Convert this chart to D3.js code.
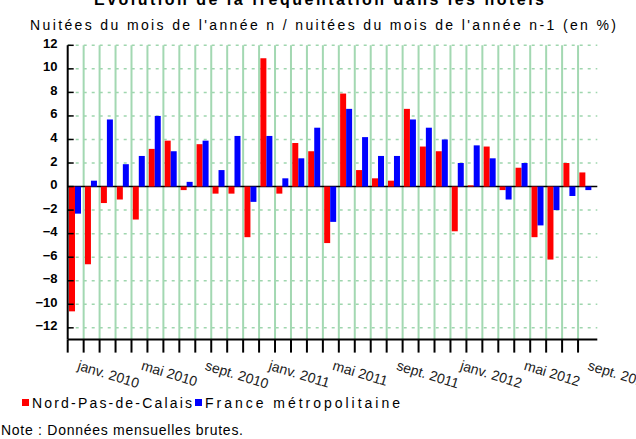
<!DOCTYPE html>
<html>
<head>
<meta charset="utf-8">
<script src="https://cdn.jsdelivr.net/npm/d3@7"></script>
<style>
body { margin: 0; background: #fff; }
svg { display: block; font-family: "Liberation Sans", Arial, sans-serif; }
</style>
</head>
<body>
<svg class="chart" width="636" height="439"></svg>
<script>
// months shown, one per band (janv. 2010 -> sept. 2012)
let months = d3.timeMonths(new Date(2010, 0, 1), new Date(2012, 9, 1));
let seriesNames = ["Nord-Pas-de-Calais", "France métropolitaine"];
let seriesColors = ["#ff0000", "#0000ff"];
let npdc = [-10.6, -6.6, -1.4, -1.1, -2.8, 3.2, 3.9, -0.3, 3.6, -0.6, -0.6, -4.3,
            10.9, -0.6, 3.7, 3.0, -4.8, 7.9, 1.4, 0.7, 0.5, 6.6, 3.4, 3.0,
            -3.8, 0.1, 3.4, -0.3, 1.6, -4.3, -6.2, 2.0, 1.2];
let france = [-2.3, 0.5, 5.7, 1.9, 2.6, 6.0, 3.0, 0.4, 3.9, 1.4, 4.3, -1.3,
              4.3, 0.7, 2.4, 5.0, -3.0, 6.6, 4.2, 2.6, 2.6, 5.7, 5.0, 4.0,
              2.0, 3.5, 2.4, -1.1, 2.0, -3.3, -2.0, -0.8, -0.3];
let yTicks = [-12, -10, -8, -6, -4, -2, 0, 2, 4, 6, 8, 10, 12];
let labelMonths = [0, 4, 8, 12, 16, 20, 24, 28, 32];
let labelTexts = ["janv. 2010", "mai 2010", "sept. 2010", "janv. 2011", "mai 2011",
                  "sept. 2011", "janv. 2012", "mai 2012", "sept. 2012"];

const svg = d3.select(".chart");
const plotLeft = 67.7, plotRight = 594, plotTop = 45.3, plotBottom = 339.6;

let x = d3.scaleBand().domain(d3.range(months.length)).range([plotLeft, plotRight]);
let xs = d3.scaleBand().domain([0, 1]).range([1.3, 13.3]);
let y = d3.scaleLinear().domain([-13, 12]).range([plotBottom, plotTop]);

// title (cut at the top) and subtitle
svg.append("text").attr("x", 319).attr("y", 5).attr("text-anchor", "middle")
    .attr("font-size", 16).attr("font-weight", "bold")
    .attr("textLength", 450).attr("lengthAdjust", "spacing")
    .text("Évolution de la fréquentation dans les hôtels");
svg.append("text").attr("x", 30).attr("y", 30).attr("font-size", 14)
    .attr("textLength", 586).attr("lengthAdjust", "spacing")
    .text("Nuitées du mois de l'année n / nuitées du mois de l'année n-1 (en %)");

// horizontal dashed grid
let grid = svg.append("g").attr("class", "grid");
grid.selectAll("line.h")
    .data(yTicks.filter(d => d != 0))
    .enter().append("line")
    .attr("class", "h")
    .attr("x1", plotLeft).attr("x2", plotRight + 3.3)
    .attr("y1", d => y(d)).attr("y2", d => y(d))
    .attr("stroke", "#9fd6ae").attr("stroke-width", 1.5)
    .attr("stroke-dasharray", "3,5");

// zero line
svg.append("line").attr("x1", plotLeft).attr("x2", plotRight + 3.3)
    .attr("y1", y(0)).attr("y2", y(0))
    .attr("stroke", "#000").attr("stroke-width", 1.5);

// vertical month separators
grid.selectAll("line.v")
    .data(d3.range(1, months.length))
    .enter().append("line")
    .attr("class", "v")
    .attr("x1", d => x(d)).attr("x2", d => x(d))
    .attr("y1", plotTop).attr("y2", plotBottom)
    .attr("stroke", "#a3d8b2").attr("stroke-width", 2);

// bars
[npdc, france].forEach(function(values, s) {
    svg.append("g").attr("class", "series" + s)
        .selectAll("rect")
        .data(values)
        .enter().append("rect")
        .attr("x", (d, i) => x(i) + xs(s))
        .attr("width", xs.bandwidth())
        .attr("y", d => y(Math.max(0, d)))
        .attr("height", d => Math.abs(y(d) - y(0)))
        .attr("fill", seriesColors[s]);
});

// y axis
let yAxis = svg.append("g").attr("class", "yaxis");
yAxis.append("line").attr("x1", plotLeft).attr("x2", plotLeft).attr("y1", plotTop).attr("y2", plotBottom)
    .attr("stroke", "#000").attr("stroke-width", 2);
yAxis.selectAll("line.tick")
    .data(yTicks)
    .enter().append("line")
    .attr("class", "tick")
    .attr("x1", plotLeft).attr("x2", plotLeft + 6)
    .attr("y1", d => y(d)).attr("y2", d => y(d))
    .attr("stroke", "#000").attr("stroke-width", 1.5);
yAxis.selectAll("text")
    .data(yTicks)
    .enter().append("text")
    .attr("x", 57.5).attr("y", d => y(d) + 2.5)
    .attr("text-anchor", "end").attr("font-size", 13).attr("font-weight", "bold")
    .text(d => d < 0 ? "\u2212" + Math.abs(d) : d);

// x axis
let xAxis = svg.append("g").attr("class", "xaxis");
xAxis.append("line").attr("x1", plotLeft).attr("x2", plotRight + 3.3).attr("y1", plotBottom).attr("y2", plotBottom)
    .attr("stroke", "#000").attr("stroke-width", 2);
xAxis.selectAll("line.tick")
    .data(d3.range(months.length))
    .enter().append("line")
    .attr("class", "tick")
    .attr("x1", d => x(d)).attr("x2", d => x(d))
    .attr("y1", plotBottom).attr("y2", plotBottom + 13)
    .attr("stroke", "#000").attr("stroke-width", 2);
xAxis.selectAll("text")
    .data(labelMonths)
    .enter().append("text")
    .attr("font-size", 14).attr("fill", "#222")
    .attr("transform", d => "translate(" + (x(d) + x.bandwidth() / 2 + 1) + "," + (plotBottom + 30) + ") rotate(17)")
    .text((d, i) => labelTexts[i]);

// legend
let legend = svg.append("g").attr("class", "legend");
let legendX = [22, 195];
let legendW = [160, 195];
seriesNames.forEach(function(name, s) {
    legend.append("rect").attr("x", legendX[s]).attr("y", 399).attr("width", 7).attr("height", 7)
        .attr("fill", seriesColors[s]);
    legend.append("text").attr("x", legendX[s] + 10).attr("y", 408).attr("font-size", 14)
        .attr("textLength", legendW[s]).attr("lengthAdjust", "spacing")
        .text(name);
});

svg.append("text").attr("x", 1).attr("y", 435).attr("font-size", 14)
    .attr("textLength", 242).attr("lengthAdjust", "spacing")
    .text("Note : Données mensuelles brutes.");
</script>
</body>
</html>
